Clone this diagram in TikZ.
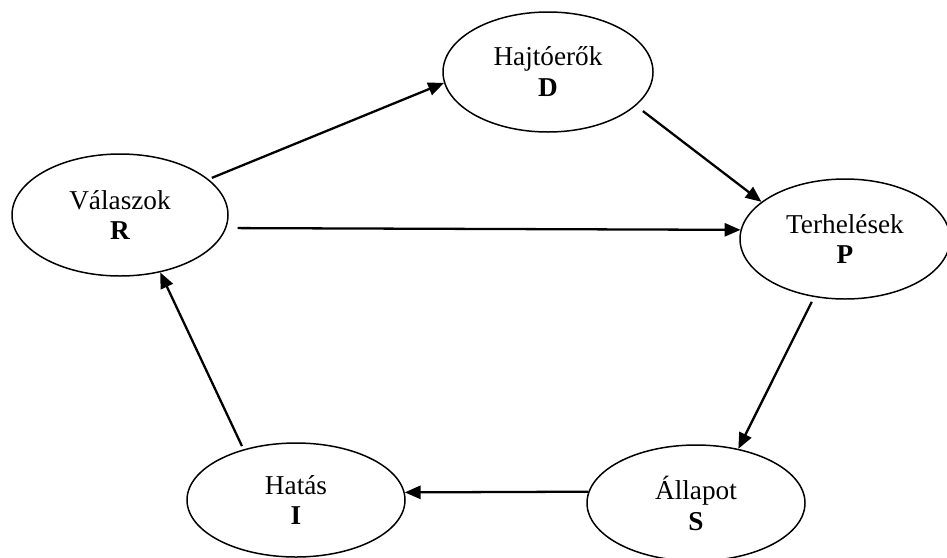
\documentclass[tikz,border=0pt]{standalone}
\usepackage{fontspec}
\setmainfont{Liberation Serif}
\usetikzlibrary{shapes.geometric,arrows.meta}

\begin{document}
\begin{tikzpicture}[>={Triangle[length=9pt,width=7.5pt]},
    elem/.style={draw,ellipse,line width=0.85pt,inner sep=0pt,align=center,
      font=\fontsize{15.5}{17.6}\selectfont},
    link/.style={->,line width=1.3pt}]
  \useasboundingbox (0,0) rectangle (18.94,-11.14);
  % the five DPSIR elements
  \node[elem,minimum width=4.2cm,minimum height=2.4cm] (d) at (10.96,-1.44) {Hajtóerők\\\textbf{D}};
  \node[elem,minimum width=4.32cm,minimum height=2.44cm] (r) at (2.4,-4.3) {Válaszok\\\textbf{R}};
  \node[elem,minimum width=4.2cm,minimum height=2.4cm] (p) at (16.9,-4.78) {Terhelések\\\textbf{P}};
  \node[elem,minimum width=4.36cm,minimum height=2.32cm] (s) at (13.92,-10.06) {Állapot\\\textbf{S}};
  \node[elem,minimum width=4.36cm,minimum height=2.28cm] (i) at (5.92,-10.0) {Hatás\\\textbf{I}};
  % links between them
  \draw[link,shorten <=2pt] (r.22) -- (d.186);
  \draw[link,shorten <=5pt] (d.-21) -- (p.156);
  \draw[link,shorten <=6.5pt] (r.-7) -- (p.175);
  \draw[link,shorten <=3pt] (p.242) -- (s.52);
  \draw[link] (s.174) -- (i.4);
  \draw[link,shorten <=2pt] (i.136) -- (r.-55);
\end{tikzpicture}
\end{document}
